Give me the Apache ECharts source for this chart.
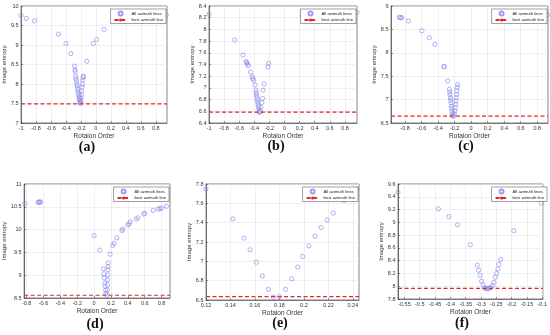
<!DOCTYPE html>
<html>
<head>
<meta charset="utf-8">
<script src="https://cdn.jsdelivr.net/npm/echarts@6/dist/echarts.min.js"></script>
<style>
html, body { margin: 0; padding: 0; background: #fff; }
#chart { width: 550px; height: 335px; }
</style>
</head>
<body>
<div id="chart"></div>
<script>
// (a)
var aX = [-1, -0.93, -0.82, -0.5, -0.4, -0.335, -0.285, -0.28, -0.275, -0.27, -0.265, -0.26, -0.255, -0.25, -0.245, -0.24,
  -0.235, -0.23, -0.225, -0.22, -0.215, -0.21, -0.205, -0.2, -0.2, -0.195, -0.19, -0.185, -0.18, -0.175, -0.17, -0.168,
  -0.12, -0.035, 0.01, 0.11, 0.94];
var aY = [9.76, 9.68, 9.62, 9.28, 9.04, 8.78, 8.46, 8.36, 8.32, 8.2, 8.14, 8.08, 8.0, 7.95, 7.88, 7.82,
  7.76, 7.7, 7.64, 7.6, 7.55, 7.5, 7.52, 7.57, 7.65, 7.72, 7.82, 7.92, 8.0, 8.1, 8.17, 8.2,
  8.58, 9.04, 9.14, 9.4, 9.77];
var aBest = 7.49;
var aXTicks = [-1, -0.8, -0.6, -0.4, -0.2, 0, 0.2, 0.4, 0.6, 0.8];
var aYTicks = [7, 7.5, 8, 8.5, 9, 9.5, 10];

// (b)
var bX = [-1, -0.66, -0.55, -0.51, -0.5, -0.49, -0.48, -0.45, -0.43, -0.42, -0.41, -0.39,
  -0.38, -0.375, -0.37, -0.365, -0.36, -0.355, -0.35, -0.345, -0.34, -0.335, -0.33,
  -0.32, -0.315, -0.3, -0.29, -0.285, -0.27, -0.22, -0.21, 0.96];
var bY = [8.26, 7.82, 7.56, 7.45, 7.43, 7.41, 7.38, 7.27, 7.19, 7.16, 7.13, 7.05,
  6.96, 6.92, 6.88, 6.84, 6.8, 6.76, 6.72, 6.68, 6.64, 6.6, 6.58,
  6.6, 6.67, 6.75, 6.82, 6.96, 7.07, 7.36, 7.42, 8.29];
var bBest = 6.585;
var bXTicks = [-1, -0.8, -0.6, -0.4, -0.2, 0, 0.2, 0.4, 0.6, 0.8];
var bYTicks = [6.4, 6.6, 6.8, 7, 7.2, 7.4, 7.6, 7.8, 8, 8.2, 8.4];

// (c)
var cX = [-0.87, -0.855, -0.84, -0.76, -0.595, -0.506, -0.438, -0.329, -0.325, -0.285,
  -0.264, -0.26, -0.256, -0.252, -0.248, -0.244, -0.24, -0.236, -0.232, -0.228, -0.22, -0.216,
  -0.204, -0.196, -0.192, -0.188, -0.184, -0.18, -0.176, -0.172, -0.168, -0.164, 0.925];
var cY = [8.76, 8.75, 8.75, 8.68, 8.47, 8.32, 8.18, 7.71, 7.7, 7.4,
  7.22, 7.16, 7.11, 7.04, 6.99, 6.93, 6.86, 6.81, 6.75, 6.7, 6.66, 6.64,
  6.7, 6.76, 6.83, 6.9, 6.97, 7.04, 7.11, 7.19, 7.26, 7.32, 8.81];
var cBest = 6.645;
var cXTicks = [-0.8, -0.6, -0.4, -0.2, 0, 0.2, 0.4, 0.6, 0.8];
var cYTicks = [6.5, 7, 7.5, 8, 8.5, 9];

// (d)
var dX = [-0.82, -0.665, -0.655, -0.645, -0.635, 0.0, 0.067,
  0.11, 0.115, 0.12, 0.125, 0.13, 0.137, 0.14, 0.15,
  0.165, 0.165, 0.163, 0.162, 0.161, 0.16, 0.158,
  0.19, 0.22, 0.237, 0.268, 0.33, 0.34, 0.4, 0.415, 0.43, 0.5, 0.52, 0.59, 0.6, 0.7, 0.76, 0.78, 0.8, 0.86];
var dY = [10.57, 10.6, 10.6, 10.61, 10.6, 9.87, 9.55,
  9.14, 9.03, 8.94, 8.83, 8.76, 8.67, 8.6, 8.56,
  9.27, 9.19, 9.12, 9.01, 8.9, 8.79, 8.68,
  9.46, 9.65, 9.7, 9.82, 9.98, 10.01, 10.1, 10.13, 10.17, 10.23, 10.26, 10.34, 10.36, 10.42, 10.45, 10.46, 10.47, 10.51];
var dBest = 8.56;
var dXTicks = [-0.8, -0.6, -0.4, -0.2, 0, 0.2, 0.4, 0.6, 0.8];
var dYTicks = [8.5, 9, 9.5, 10, 10.5, 11];

// (e)
var eX = [0.12, 0.142, 0.151, 0.156, 0.161, 0.166, 0.171, 0.175, 0.18, 0.185,
  0.19, 0.195, 0.199, 0.204, 0.209, 0.214, 0.219, 0.224, 0.233, 0.243];
var eY = [7.75, 7.44, 7.24, 7.12, 6.99, 6.85, 6.71, 6.63, 6.635, 6.71,
  6.82, 6.94, 7.05, 7.16, 7.26, 7.35, 7.43, 7.5, 7.63, 7.75];
var eBest = 6.635;
var eXTicks = [0.12, 0.14, 0.16, 0.18, 0.2, 0.22, 0.24];
var eYTicks = [6.6, 6.8, 7, 7.2, 7.4, 7.6, 7.8];

// (f)
var fX = [-0.571, -0.439, -0.405, -0.377, -0.335, -0.312, -0.308, -0.303, -0.298, -0.293,
  -0.288, -0.284, -0.28, -0.276, -0.272, -0.268, -0.262, -0.258, -0.253, -0.249, -0.245, -0.242, -0.236,
  -0.193, -0.103];
var fY = [9.47, 9.21, 9.09, 8.96, 8.65, 8.33, 8.25, 8.17, 8.08, 8.02,
  7.975, 7.965, 7.96, 7.965, 7.97, 7.98, 8.01, 8.06, 8.14, 8.2, 8.27, 8.34, 8.42,
  8.87, 9.3];
var fBest = 7.967;
var fXTicks = [-0.55, -0.5, -0.45, -0.4, -0.35, -0.3, -0.25, -0.2, -0.15, -0.1];
var fYTicks = [7.8, 8, 8.2, 8.4, 8.6, 8.8, 9, 9.2, 9.4, 9.6];

var panels = [
  { tag: '(a)', xs: aX, ys: aY, best: aBest, xt: aXTicks, yt: aYTicks, xr: [-1, 0.95], yr: [7, 10] },
  { tag: '(b)', xs: bX, ys: bY, best: bBest, xt: bXTicks, yt: bYTicks, xr: [-1, 0.96], yr: [6.4, 8.4] },
  { tag: '(c)', xs: cX, ys: cY, best: cBest, xt: cXTicks, yt: cYTicks, xr: [-0.97, 0.93], yr: [6.5, 9] },
  { tag: '(d)', xs: dX, ys: dY, best: dBest, xt: dXTicks, yt: dYTicks, xr: [-0.83, 0.9], yr: [8.5, 11] },
  { tag: '(e)', xs: eX, ys: eY, best: eBest, xt: eXTicks, yt: eYTicks, xr: [0.12, 0.245], yr: [6.6, 7.8] },
  { tag: '(f)', xs: fX, ys: fY, best: fBest, xt: fXTicks, yt: fYTicks, xr: [-0.571, -0.098], yr: [7.8, 9.6] }
];

// plot boxes: left, top, width, height ; caption centre
var boxes = [
  [20, 6, 147, 117], [209, 6, 148, 117], [391, 6, 157, 117],
  [21, 184, 149, 114], [206, 184, 153, 116], [398, 184, 150, 115]
];
var captions = [[87, 147], [276, 146], [466, 146], [95, 324], [280, 323], [462, 323]];

var font = 'Liberation Sans';
var dotColor = '#8585ee';
var redColor = '#e3262a';

var grid = [], xAxis = [], yAxis = [], series = [], legend = [], graphic = [];

panels.forEach(function (p, i) {
  var b = boxes[i];
  grid.push({
    left: b[0], top: b[1], width: b[2], height: b[3],
    show: true, borderColor: '#333', borderWidth: 0.6, backgroundColor: '#fff'
  });
  xAxis.push({
    type: 'value', gridIndex: i, min: p.xr[0], max: p.xr[1],
    name: 'Rotaion Order', nameLocation: 'middle', nameGap: 8,
    nameTextStyle: { fontSize: 6.5, color: '#333', fontFamily: font },
    axisLine: { show: true, onZero: false, lineStyle: { color: '#333', width: 0.6 } },
    axisTick: { show: true, inside: true, length: 2, customValues: p.xt, lineStyle: { color: '#333', width: 0.5 } },
    axisLabel: { customValues: p.xt, fontSize: 5.5, color: '#333', fontFamily: font, margin: 2.5 },
    splitLine: { show: true, lineStyle: { color: '#e4e4e4', width: 0.6 } }
  });
  yAxis.push({
    type: 'value', gridIndex: i, min: p.yr[0], max: p.yr[1],
    name: 'Image entropy', nameLocation: 'middle', nameGap: 12, nameRotate: 90,
    nameTextStyle: { fontSize: 6, color: '#333', fontFamily: font },
    axisLine: { show: true, onZero: false, lineStyle: { color: '#333', width: 0.6 } },
    axisTick: { show: true, inside: true, length: 2, customValues: p.yt, lineStyle: { color: '#333', width: 0.5 } },
    axisLabel: { customValues: p.yt, fontSize: 5.5, color: '#333', fontFamily: font, margin: 2.5 },
    splitLine: { show: true, lineStyle: { color: '#e4e4e4', width: 0.6 } }
  });
  var pts = p.xs.map(function (x, k) { return [x, p.ys[k]]; });
  series.push({
    name: 'All azimuth lines', type: 'scatter', xAxisIndex: i, yAxisIndex: i,
    data: pts, symbol: 'circle', symbolSize: 4.2,
    itemStyle: { color: 'rgba(255,255,255,0)', borderColor: dotColor, borderWidth: 0.8 },
    emphasis: { disabled: true }, z: 3
  });
  series.push({
    name: 'best azimuth line', type: 'line', xAxisIndex: i, yAxisIndex: i,
    data: [[p.xr[0], p.best], [p.xr[1], p.best]], symbol: 'none',
    lineStyle: { color: redColor, width: 1.2, type: [4, 2.5] }, itemStyle: { color: redColor },
    emphasis: { disabled: true }, z: 4
  });
  legend.push({
    right: 550 - (b[0] + b[2]) + 1, top: b[1] + 3,
    orient: 'vertical', itemWidth: 12, itemHeight: 4, itemGap: 1.5,
    padding: [1.5, 3, 1.5, 3],
    backgroundColor: '#fff', borderColor: '#444', borderWidth: 0.5,
    textStyle: { fontSize: 4.2, color: '#222', fontFamily: font },
    data: ['All azimuth lines', 'best azimuth line'],
    selectedMode: false
  });
  graphic.push({
    type: 'text', x: captions[i][0], y: captions[i][1],
    style: { text: p.tag, font: 'bold 14px "Liberation Serif"', fill: '#111',
      textAlign: 'center', textVerticalAlign: 'middle' }
  });
});

var chart = echarts.init(document.getElementById('chart'));
chart.setOption({
  animation: false,
  grid: grid,
  xAxis: xAxis,
  yAxis: yAxis,
  legend: legend,
  series: series,
  graphic: graphic
});
</script>
</body>
</html>
